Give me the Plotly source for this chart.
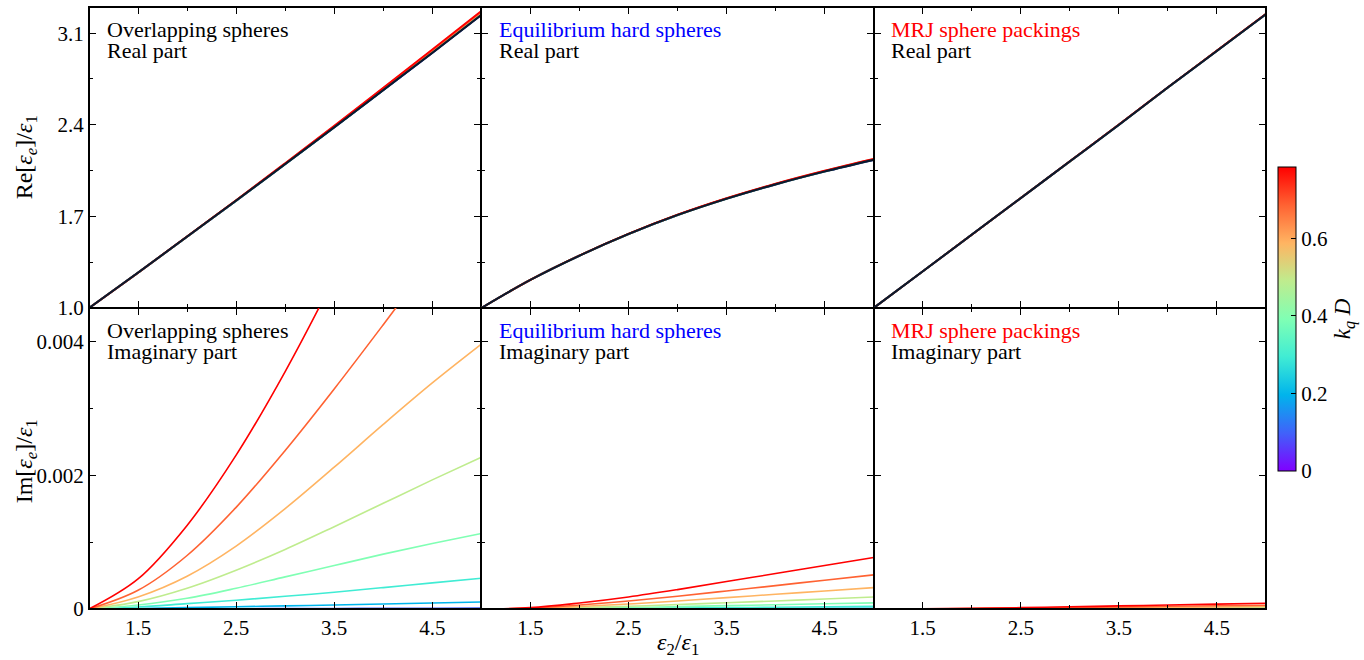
import plotly.graph_objects as go
from plotly.subplots import make_subplots
from plotly.colors import sample_colorscale

# ---------------- data ----------------
eps_ratio = [1.0, 1.5, 2.0, 2.5, 3.0, 3.5, 4.0, 4.5, 5.0]
kqD = [0.0, 0.098, 0.196, 0.295, 0.393, 0.491, 0.589, 0.687, 0.785]
panel_names = ["Overlapping spheres", "Equilibrium hard spheres", "MRJ sphere packings"]
panel_name_colors = ["black", "blue", "red"]

# Real parts (quasi-static reference, drawn in black)
re_overlap_ref = [1.0, 1.27, 1.545, 1.82, 2.10, 2.38, 2.665, 2.95, 3.24]
re_equil_ref = [1.0, 1.215, 1.40, 1.565, 1.71, 1.835, 1.945, 2.043, 2.132]
re_mrj_ref = [1.0, 1.28, 1.56, 1.84, 2.12, 2.40, 2.685, 2.965, 3.245]

# Real parts for each kqD (rows follow kqD)
re_overlap = [
    [1.0, 1.27, 1.545, 1.82, 2.10, 2.38, 2.665, 2.95, 3.24],
    [1.0, 1.27, 1.545, 1.82, 2.10, 2.38, 2.665, 2.95, 3.241],
    [1.0, 1.27, 1.545, 1.82, 2.10, 2.38, 2.666, 2.952, 3.243],
    [1.0, 1.27, 1.545, 1.82, 2.10, 2.381, 2.667, 2.954, 3.246],
    [1.0, 1.27, 1.545, 1.82, 2.101, 2.382, 2.669, 2.957, 3.250],
    [1.0, 1.27, 1.545, 1.821, 2.102, 2.384, 2.672, 2.961, 3.254],
    [1.0, 1.27, 1.546, 1.822, 2.103, 2.386, 2.675, 2.965, 3.259],
    [1.0, 1.27, 1.546, 1.823, 2.105, 2.389, 2.679, 2.970, 3.264],
    [1.0, 1.27, 1.547, 1.824, 2.107, 2.392, 2.683, 2.975, 3.270],
]
re_equil = [
    [1.0, 1.215, 1.40, 1.565, 1.71, 1.835, 1.945, 2.043, 2.132],
    [1.0, 1.215, 1.40, 1.565, 1.71, 1.835, 1.945, 2.043, 2.132],
    [1.0, 1.215, 1.40, 1.565, 1.71, 1.835, 1.945, 2.043, 2.133],
    [1.0, 1.215, 1.40, 1.565, 1.71, 1.835, 1.946, 2.044, 2.133],
    [1.0, 1.215, 1.40, 1.565, 1.71, 1.836, 1.946, 2.044, 2.134],
    [1.0, 1.215, 1.40, 1.565, 1.711, 1.836, 1.947, 2.045, 2.135],
    [1.0, 1.215, 1.40, 1.566, 1.711, 1.837, 1.947, 2.046, 2.136],
    [1.0, 1.215, 1.401, 1.566, 1.712, 1.838, 1.948, 2.047, 2.137],
    [1.0, 1.215, 1.401, 1.567, 1.713, 1.839, 1.950, 2.049, 2.139],
]
re_mrj = [
    [1.0, 1.28, 1.56, 1.84, 2.12, 2.40, 2.685, 2.965, 3.245],
    [1.0, 1.28, 1.56, 1.84, 2.12, 2.40, 2.685, 2.965, 3.245],
    [1.0, 1.28, 1.56, 1.84, 2.12, 2.40, 2.685, 2.965, 3.245],
    [1.0, 1.28, 1.56, 1.84, 2.12, 2.40, 2.685, 2.965, 3.245],
    [1.0, 1.28, 1.56, 1.84, 2.12, 2.40, 2.685, 2.965, 3.246],
    [1.0, 1.28, 1.56, 1.84, 2.12, 2.40, 2.685, 2.966, 3.246],
    [1.0, 1.28, 1.56, 1.84, 2.12, 2.401, 2.686, 2.966, 3.247],
    [1.0, 1.28, 1.56, 1.84, 2.121, 2.401, 2.686, 2.967, 3.247],
    [1.0, 1.28, 1.56, 1.84, 2.121, 2.402, 2.687, 2.967, 3.248],
]

# Imaginary parts for each kqD
im_overlap = [
    [0, 0, 0, 0, 0, 0, 0, 0, 0],
    [0, 0.000001, 0.000002, 0.000004, 0.000006, 0.000008, 0.00001, 0.000012, 0.000014],
    [0, 0.000008, 0.00002, 0.000033, 0.000047, 0.00006, 0.000074, 0.00009, 0.000105],
    [0, 0.00003, 0.00008, 0.00013, 0.00019, 0.00025, 0.00032, 0.00039, 0.00046],
    [0, 0.00006, 0.00016, 0.00031, 0.00048, 0.00065, 0.00082, 0.00098, 0.00113],
    [0, 0.00011, 0.00031, 0.00058, 0.00089, 0.00123, 0.00158, 0.00193, 0.00227],
    [0, 0.00018, 0.00049, 0.00094, 0.00150, 0.00212, 0.00276, 0.00338, 0.00396],
    [0, 0.00028, 0.00080, 0.00152, 0.00237, 0.00329, 0.00425, 0.00523, 0.00621],
    [0, 0.00045, 0.00125, 0.00230, 0.00355, 0.00495, 0.00645, 0.00805, 0.00975],
]
im_equil = [
    [0, 0, 0, 0, 0, 0, 0, 0, 0],
    [0, 0, 0.0000002, 0.0000004, 0.0000007, 0.000001, 0.0000013, 0.0000016, 0.000002],
    [0, 0, 0.0000015, 0.000003, 0.000005, 0.0000066, 0.0000085, 0.0000104, 0.0000123],
    [0, 0.000001, 0.000005, 0.000009, 0.000015, 0.00002, 0.000027, 0.000033, 0.000039],
    [0, 0.000002, 0.00001, 0.00002, 0.000035, 0.00005, 0.000064, 0.000078, 0.000092],
    [0, 0.000005, 0.00002, 0.00004, 0.000067, 0.000094, 0.00012, 0.00015, 0.00018],
    [0, 0.000008, 0.000037, 0.000074, 0.00012, 0.00017, 0.00022, 0.00027, 0.00032],
    [0, 0.000013, 0.00006, 0.00012, 0.00019, 0.00027, 0.00035, 0.00043, 0.00051],
    [0, 0.00002, 0.00009, 0.00018, 0.00029, 0.00041, 0.00053, 0.00065, 0.00077],
]
im_mrj = [
    [0, 0, 0, 0, 0, 0, 0, 0, 0],
    [0, 0, 0, 0, 0.0000001, 0.0000001, 0.0000001, 0.0000002, 0.0000002],
    [0, 0, 0.0000002, 0.0000003, 0.0000005, 0.0000007, 0.000001, 0.0000012, 0.0000014],
    [0, 0.0000001, 0.0000005, 0.000001, 0.0000017, 0.0000024, 0.0000032, 0.0000039, 0.0000046],
    [0, 0.0000003, 0.0000013, 0.0000025, 0.000004, 0.0000058, 0.0000075, 0.0000091, 0.000011],
    [0, 0.0000005, 0.0000024, 0.0000048, 0.0000079, 0.000011, 0.000014, 0.0000175, 0.000021],
    [0, 0.0000008, 0.0000042, 0.0000084, 0.000014, 0.000019, 0.000025, 0.000031, 0.000037],
    [0, 0.0000013, 0.0000066, 0.000013, 0.000022, 0.00003, 0.00004, 0.000048, 0.000057],
    [0, 0.000002, 0.00001, 0.00002, 0.000033, 0.000046, 0.00006, 0.000073, 0.000087],
]

x_tick_vals = [1.5, 2.5, 3.5, 4.5]
re_tick_vals = [1.0, 1.7, 2.4, 3.1]
im_tick_vals = [0, 0.002, 0.004]
im_tick_text = ["0", "0.002", "0.004"]
cbar_tick_vals = [0, 0.2, 0.4, 0.6]
cbar_tick_text = ["0", "0.2", "0.4", "0.6"]

# ---------------- style ----------------
rainbow_stops = ["#8000ff", "#4062fa", "#00b4ec", "#40ecd4", "#80ffb4",
                 "#bfec8e", "#ffb462", "#ff6232", "#ff0000"]
kq_max = 0.785
colorscale = [[i / 8, c] for i, c in enumerate(rainbow_stops)]
FONT = "Liberation Serif, DejaVu Serif, serif"
REF_COLOR = "#0b1a2e"
SMOOTH = 1.0

fig = make_subplots(rows=2, cols=3, horizontal_spacing=0, vertical_spacing=0)

re_sets = [re_overlap, re_equil, re_mrj]
re_refs = [re_overlap_ref, re_equil_ref, re_mrj_ref]
im_sets = [im_overlap, im_equil, im_mrj]

for c in range(3):
    for k, kq in enumerate(kqD):
        col = sample_colorscale(colorscale, [kq / kq_max])[0]
        fig.add_trace(go.Scatter(x=eps_ratio, y=re_sets[c][k], mode="lines",
                                 line=dict(color=col, width=1.8, shape="spline", smoothing=SMOOTH),
                                 showlegend=False, hoverinfo="skip"), row=1, col=c + 1)
    fig.add_trace(go.Scatter(x=eps_ratio, y=re_refs[c], mode="lines",
                             line=dict(color=REF_COLOR, width=2.2, shape="spline", smoothing=SMOOTH),
                             showlegend=False, hoverinfo="skip"), row=1, col=c + 1)
    for k, kq in enumerate(kqD):
        col = sample_colorscale(colorscale, [kq / kq_max])[0]
        fig.add_trace(go.Scatter(x=eps_ratio, y=im_sets[c][k], mode="lines",
                                 line=dict(color=col, width=1.6, shape="spline", smoothing=SMOOTH),
                                 showlegend=False, hoverinfo="skip"), row=2, col=c + 1)

# colorbar carrier
fig.add_trace(go.Scatter(
    x=[None], y=[None], mode="markers", showlegend=False, hoverinfo="skip",
    marker=dict(color=[0], cmin=0, cmax=kq_max, colorscale=colorscale, showscale=True,
                colorbar=dict(x=1.0017, xanchor="left", y=0.482, yanchor="middle",
                              len=0.538, lenmode="fraction", thickness=18,
                              outlinewidth=1, outlinecolor="black",
                              ticks="inside", ticklen=5, tickcolor="black",
                              tickvals=cbar_tick_vals, ticktext=cbar_tick_text,
                              tickfont=dict(family=FONT, size=21, color="black"),
                              title=dict(text="<i>k<sub>q</sub> D</i>", side="right",
                                         font=dict(family=FONT, size=23, color="black"))))),
    row=1, col=3)

axis_common = dict(showline=True, linewidth=1.1, linecolor="black", mirror="allticks",
                   ticks="inside", ticklen=7, tickwidth=1.2, tickcolor="black",
                   showgrid=False, zeroline=False,
                   tickfont=dict(family=FONT, size=21, color="black"))

for r in (1, 2):
    for c in (1, 2, 3):
        fig.update_xaxes(range=[1, 5], tickmode="array", tickvals=x_tick_vals,
                         ticktext=[str(v) for v in x_tick_vals],
                         showticklabels=(r == 2),
                         minor=dict(tickmode="array", tickvals=[1, 2, 3, 4, 5], ticks="inside",
                                    ticklen=4, tickcolor="black", tickwidth=1),
                         row=r, col=c, **axis_common)
        if r == 1:
            fig.update_yaxes(range=[1.0, 3.3], tickmode="array", tickvals=re_tick_vals,
                             ticktext=["1.0", "1.7", "2.4", "3.1"],
                             showticklabels=(c == 1),
                             minor=dict(tickmode="array", tickvals=[1.35, 2.05, 2.75],
                                        ticks="inside", ticklen=4, tickcolor="black", tickwidth=1),
                             row=r, col=c, **axis_common)
        else:
            fig.update_yaxes(range=[0, 0.0045], tickmode="array", tickvals=im_tick_vals,
                             ticktext=im_tick_text, showticklabels=(c == 1),
                             minor=dict(tickmode="array", tickvals=[0.001, 0.003],
                                        ticks="inside", ticklen=4, tickcolor="black", tickwidth=1),
                             row=r, col=c, **axis_common)

# panel labels
annotations = []
for c in range(3):
    for r, part in ((1, "Real part"), (2, "Imaginary part")):
        idx = c + 1 + (r - 1) * 3
        xr = "x domain" if idx == 1 else f"x{idx} domain"
        yr = "y domain" if idx == 1 else f"y{idx} domain"
        annotations.append(dict(text=panel_names[c], x=0.04, y=0.926, xref=xr, yref=yr,
                                xanchor="left", yanchor="middle", showarrow=False,
                                font=dict(family=FONT, size=22, color=panel_name_colors[c])))
        annotations.append(dict(text=part, x=0.04, y=0.855, xref=xr, yref=yr,
                                xanchor="left", yanchor="middle", showarrow=False,
                                font=dict(family=FONT, size=22, color="black")))

annotations.append(dict(text="Re[<i>ε<sub>e</sub></i>]/<i>ε</i><sub>1</sub>", x=-0.054, y=0.751,
                        xref="paper", yref="paper", textangle=-90, showarrow=False,
                        xanchor="center", yanchor="middle",
                        font=dict(family=FONT, size=24, color="black")))
annotations.append(dict(text="Im[<i>ε<sub>e</sub></i>]/<i>ε</i><sub>1</sub>", x=-0.054, y=0.246,
                        xref="paper", yref="paper", textangle=-90, showarrow=False,
                        xanchor="center", yanchor="middle",
                        font=dict(family=FONT, size=24, color="black")))
annotations.append(dict(text="<i>ε</i><sub>2</sub>/<i>ε</i><sub>1</sub>", x=0.5, y=-0.058,
                        xref="paper", yref="paper", showarrow=False,
                        xanchor="center", yanchor="middle",
                        font=dict(family=FONT, size=24, color="black")))

frame = [dict(type="rect", xref="paper", yref="paper", x0=0, x1=1, y0=0, y1=1,
              line=dict(color="black", width=2), fillcolor="rgba(0,0,0,0)", layer="above")]

fig.update_layout(width=1364, height=660,
                  margin=dict(l=89, r=98, t=7, b=51, autoexpand=False),
                  paper_bgcolor="white", plot_bgcolor="white",
                  annotations=annotations, shapes=frame, font=dict(family=FONT))

fig.write_html("out.html")
